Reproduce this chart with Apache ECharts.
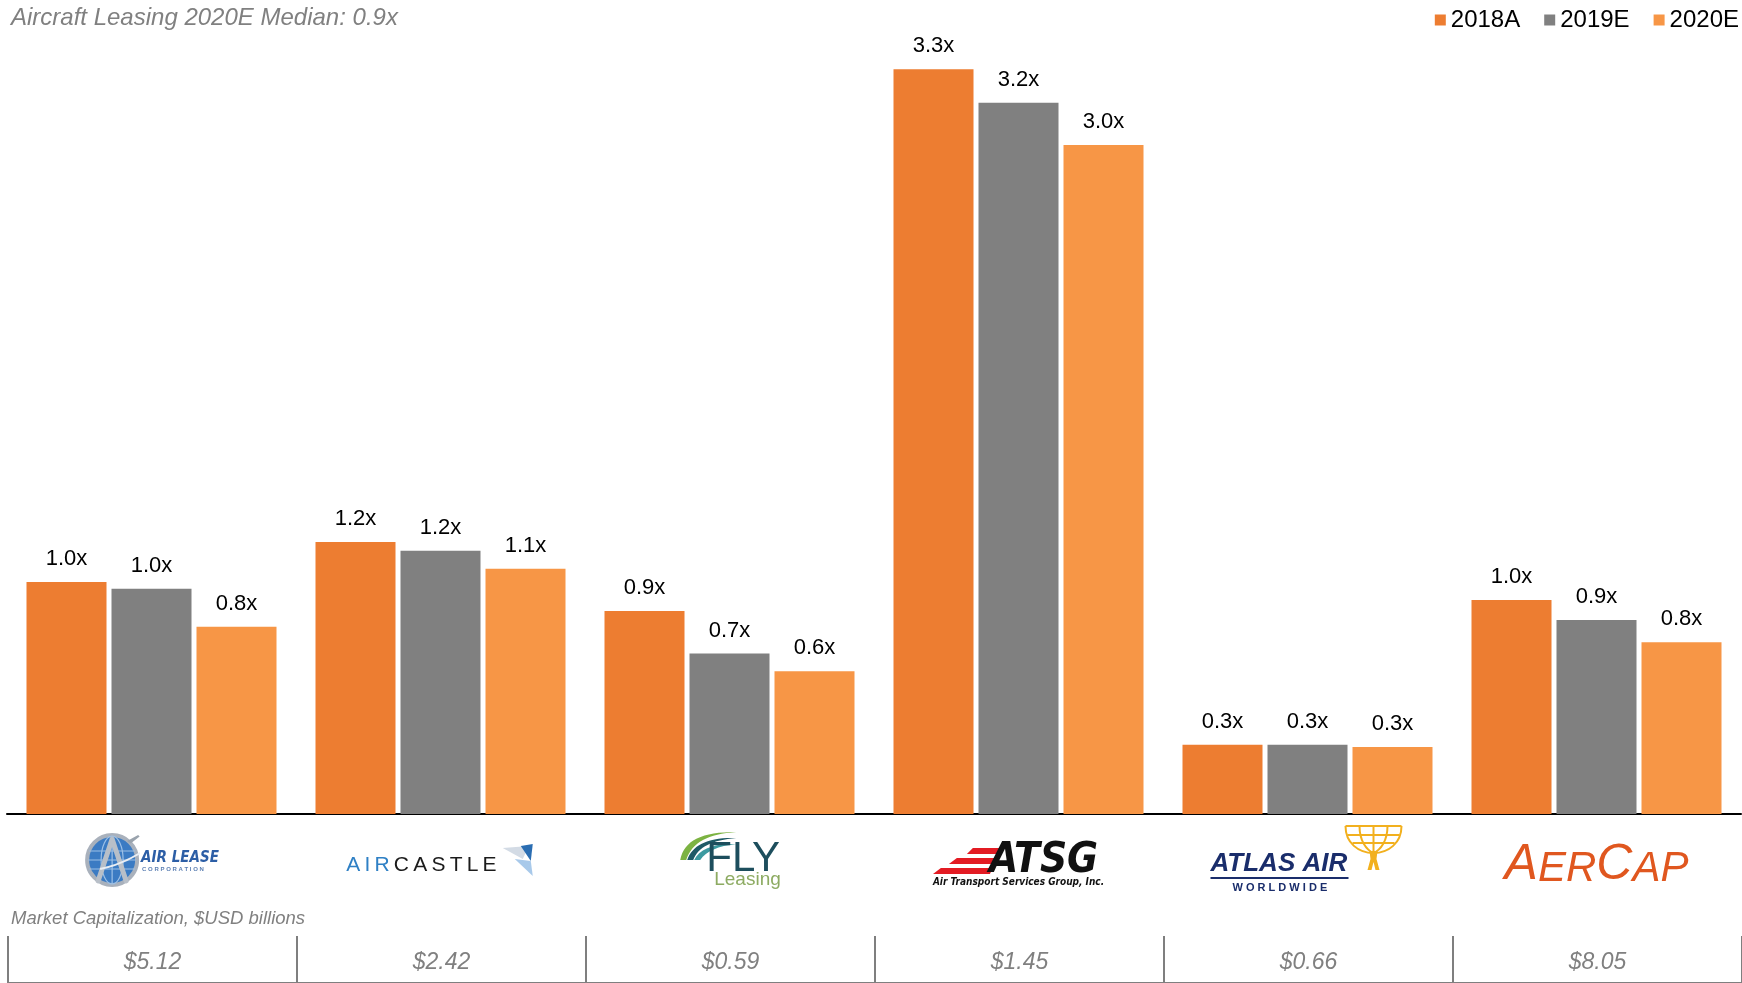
<!DOCTYPE html>
<html><head><meta charset="utf-8">
<script src="https://cdn.jsdelivr.net/npm/echarts@6/dist/echarts.min.js"></script>
<style>html,body{margin:0;padding:0;background:#fff}#chart{width:1742px;height:983px}</style>
</head><body><div id="chart"></div>
<script>
// ---------- data ----------
const categories = ['Air Lease', 'Aircastle', 'FLY Leasing', 'ATSG', 'Atlas Air', 'AerCap'];
const seriesNames = ['2018A', '2019E', '2020E'];
const values2018A = [1.04, 1.22, 0.91, 3.34, 0.31, 0.96];
const values2019E = [1.01, 1.18, 0.72, 3.19, 0.31, 0.87];
const values2020E = [0.84, 1.10, 0.64, 3.00, 0.30, 0.77];
const marketCaps = ['$5.12', '$2.42', '$0.59', '$1.45', '$0.66', '$8.05'];
const medianLabel = 'Aircraft Leasing 2020E Median: 0.9x';
const tableCaption = 'Market Capitalization, $USD billions';

// ---------- styling helpers ----------
const F = "'Liberation Sans', Arial, sans-serif";
const FN = "'Liberation Sans Narrow', 'DejaVu Sans Condensed', 'Liberation Sans', sans-serif";
const colors = ['#ED7D31', '#808080', '#F79646'];
function svgUri(s) { return 'data:image/svg+xml;charset=utf-8,' + encodeURIComponent(s); }

const globeInner = '<circle cx="28" cy="28" r="25" fill="#3b7bc3" stroke="#a9b1bc" stroke-width="4"/>' +
  '<g stroke="#9cc0e6" stroke-width="1.2" fill="none"><ellipse cx="28" cy="28" rx="11" ry="24"/>' +
  '<path d="M5 19 H51 M4 28 H52 M5 37 H51 M28 4 V52"/></g>' +
  '<path d="M28 7 L14 49 M28 7 L42 49" stroke="#b8bfc8" stroke-width="5" fill="none" stroke-linecap="round"/>' +
  '<path d="M16 37 Q36 33 56 21" stroke="#e9eef4" stroke-width="2" fill="none"/>' +
  '<path d="M43 9 l11 -6 l1.5 1.5 l-9 7 z" fill="#9aa3ad"/>';
function globe(vy, h) {
  return svgUri('<svg xmlns="http://www.w3.org/2000/svg" width="56" height="' + h + '" viewBox="0 ' + vy + ' 56 ' + h + '">' + globeInner + '</svg>');
}
const flagImg = svgUri('<svg xmlns="http://www.w3.org/2000/svg" width="34" height="32" viewBox="0 0 34 32">' +
  '<polygon points="2,4 28,2 22,15" fill="#d3dbe5"/><polygon points="20,2 32,0 30,17" fill="#2a6db2"/>' +
  '<polygon points="14,15 30,17 32,32" fill="#a8c9ea"/></svg>');
const swooshImg = svgUri('<svg xmlns="http://www.w3.org/2000/svg" width="58" height="40" viewBox="0 0 58 40">' +
  '<path d="M2 30 C6 10 24 2 58 2 C30 4 14 12 8 30 Z" fill="#7cb342"/>' +
  '<path d="M9 30 C14 15 30 7 58 8 C34 10 20 17 15 30 Z" fill="#1e5a66"/>' +
  '<path d="M16 30 C21 19 36 13 58 14 C40 16 28 21 22 30 Z" fill="#3c9aa0"/></svg>');
const stripesImg = svgUri('<svg xmlns="http://www.w3.org/2000/svg" width="68" height="30" viewBox="0 0 68 30">' +
  '<polygon points="40,2 68,2 65,8 34,8" fill="#e31b23"/><polygon points="24,12 64,12 61,18 16,18" fill="#e31b23"/>' +
  '<polygon points="8,22 60,22 57,28 0,28" fill="#e31b23"/></svg>');
const atlasImg = svgUri('<svg xmlns="http://www.w3.org/2000/svg" width="62" height="54" viewBox="0 0 62 54">' +
  '<g stroke="#f2b01e" stroke-width="2" fill="none"><path d="M3 3 C3 20 16 30 31 30 C46 30 59 20 59 3"/>' +
  '<path d="M3 3 H59 M5 12 H57 M10 20 H52"/><path d="M17 3 C17 18 24 27 31 30 M31 3 V30 M45 3 C45 18 38 27 31 30"/></g>' +
  '<path d="M27 28 H35 L34 36 L37 47 H33 L31 39 L29 47 H25 L28 36 Z" fill="#f2b01e"/></svg>');

const T = '\u2009';
const logoText = {
  'Air Lease': '{gt|}{al|AIR LEASE}\n{gb|}{corp|C O R P O R A T I O N}',
  'Aircastle': '{air|A' + T + 'I' + T + 'R' + T + '}{cas|C' + T + 'A' + T + 'S' + T + 'T' + T + 'L' + T + 'E' + T + '}{flag|}',
  'FLY Leasing': '{sw|}{fly|FLY}\n{sp3| }{leas|Leasing}',
  'ATSG': '{tsp| }\n{str|}{atsg|ATSG}\n{sub|Air Transport Services Group, Inc.}',
  'Atlas Air': '{atl|ATLAS AIR}{fig|}\n{rule|}\n{wsp| }{ww|W O R L D W I D E}',
  'AerCap': '{tsp| }\n{big|A}{sm|ER}{big|C}{sm|AP}'
};
const L = { align: 'left' };
const rich = {
  gt: Object.assign({ width: 56, height: 34, backgroundColor: { image: globe(0, 34) } }, L),
  gb: Object.assign({ width: 56, height: 22, backgroundColor: { image: globe(34, 22) } }, L),
  al: Object.assign({ fontFamily: FN, fontWeight: 'bold', fontStyle: 'italic', fontSize: 15, color: '#2c5ea6', verticalAlign: 'bottom', lineHeight: 18, padding: [0, 0, 0, 1] }, L),
  corp: Object.assign({ fontFamily: F, fontWeight: 'bold', fontSize: 6, color: '#5b7fb3', verticalAlign: 'top', lineHeight: 10, padding: [0, 0, 0, 2] }, L),
  air: Object.assign({ fontFamily: F, fontSize: 21, color: '#2f80c5', verticalAlign: 'bottom', lineHeight: 22 }, L),
  cas: Object.assign({ fontFamily: F, fontSize: 21, color: '#1b1b1b', verticalAlign: 'bottom', lineHeight: 22 }, L),
  flag: Object.assign({ width: 34, height: 32, backgroundColor: { image: flagImg } }, L),
  sw: Object.assign({ width: 58, height: 40, verticalAlign: 'top', backgroundColor: { image: swooshImg } }, L),
  fly: Object.assign({ fontFamily: F, fontSize: 42, color: '#1d4e5d', lineHeight: 16, verticalAlign: 'bottom', padding: [0, 0, -10, -30] }, L),
  sp3: Object.assign({ width: 36, fontSize: 8, lineHeight: 8 }, L),
  leas: Object.assign({ fontFamily: F, fontSize: 19, color: '#8dab62', lineHeight: 20 }, L),
  tsp: Object.assign({ width: 10, fontSize: 8, lineHeight: 14 }, L),
  str: Object.assign({ width: 68, height: 30, backgroundColor: { image: stripesImg } }, L),
  atsg: Object.assign({ fontFamily: FN, fontWeight: 'bold', fontStyle: 'italic', fontSize: 42, color: '#111111', lineHeight: 28, verticalAlign: 'middle', padding: [0, 0, 0, -12] }, L),
  sub: Object.assign({ fontFamily: FN, fontWeight: 'bold', fontStyle: 'italic', fontSize: 10, color: '#111111', lineHeight: 12 }, L),
  atl: Object.assign({ fontFamily: F, fontWeight: 'bold', fontStyle: 'italic', fontSize: 26, color: '#1a2d6b', width: 132, verticalAlign: 'bottom', lineHeight: 28 }, L),
  fig: Object.assign({ width: 62, height: 54, backgroundColor: { image: atlasImg } }, L),
  rule: Object.assign({ width: 138, height: 2, backgroundColor: '#1a2d6b' }, L),
  wsp: Object.assign({ width: 22, fontSize: 8, lineHeight: 18 }, L),
  ww: Object.assign({ fontFamily: F, fontWeight: 'bold', fontSize: 11, color: '#1a2d6b', lineHeight: 18 }, L),
  big: Object.assign({ fontFamily: F, fontStyle: 'italic', fontSize: 50, color: '#e0571f', lineHeight: 46, verticalAlign: 'bottom' }, L),
  sm: Object.assign({ fontFamily: F, fontStyle: 'italic', fontSize: 42, color: '#e0571f', lineHeight: 42, verticalAlign: 'bottom' }, L)
};

const barLabel = {
  show: true, position: 'top', distance: 12,
  fontFamily: F, fontSize: 22, color: '#000000',
  formatter: p => p.value.toFixed(1) + 'x'
};
const seriesData = [values2018A, values2019E, values2020E];

const chart = echarts.init(document.getElementById('chart'), null, { renderer: 'canvas' });
chart.setOption({
  animation: false,
  backgroundColor: '#ffffff',
  title: [
    { text: medianLabel, left: 6, top: 1, textStyle: { fontFamily: F, fontSize: 24, fontStyle: 'italic', fontWeight: 'normal', color: '#808080' } },
    { text: tableCaption, left: 6, top: 904, textStyle: { fontFamily: F, fontSize: 18.5, fontStyle: 'italic', fontWeight: 'normal', color: '#808080' } }
  ],
  legend: {
    data: seriesNames, right: 3, top: 8, padding: 0, icon: 'rect', itemWidth: 11, itemHeight: 11, itemGap: 24,
    textStyle: { fontFamily: F, fontSize: 24, color: '#000000' }
  },
  grid: [
    { left: 7, right: 1, top: 33.5, bottom: 169 },
    { left: 8, right: -4, top: 936, bottom: 0 }
  ],
  xAxis: [
    {
      type: 'category', gridIndex: 0, data: categories,
      axisLine: { lineStyle: { color: '#000000', width: 2 } },
      axisTick: { show: false },
      axisLabel: {
        interval: 0, margin: 46, verticalAlign: 'middle', align: 'center', hideOverlap: false,
        formatter: v => logoText[v], rich: rich
      }
    },
    {
      type: 'category', gridIndex: 1, data: marketCaps, position: 'top',
      axisLine: { lineStyle: { color: '#7f7f7f', width: 2 } },
      axisTick: { show: false },
      splitLine: { show: true, interval: 0, lineStyle: { color: '#7f7f7f', width: 2 } },
      axisLabel: { interval: 0, inside: true, margin: 15, fontFamily: F, fontSize: 23, fontStyle: 'italic', color: '#808080' }
    }
  ],
  yAxis: [
    { type: 'value', gridIndex: 0, min: 0, max: 3.5, show: false, splitLine: { show: false } },
    { type: 'value', gridIndex: 1, show: false, splitLine: { show: false } }
  ],
  series: seriesNames.map((name, i) => ({
    name: name, type: 'bar', xAxisIndex: 0, yAxisIndex: 0,
    data: seriesData[i], barWidth: 80, barGap: '6.25%',
    itemStyle: { color: colors[i] }, label: barLabel
  }))
});
</script></body></html>
